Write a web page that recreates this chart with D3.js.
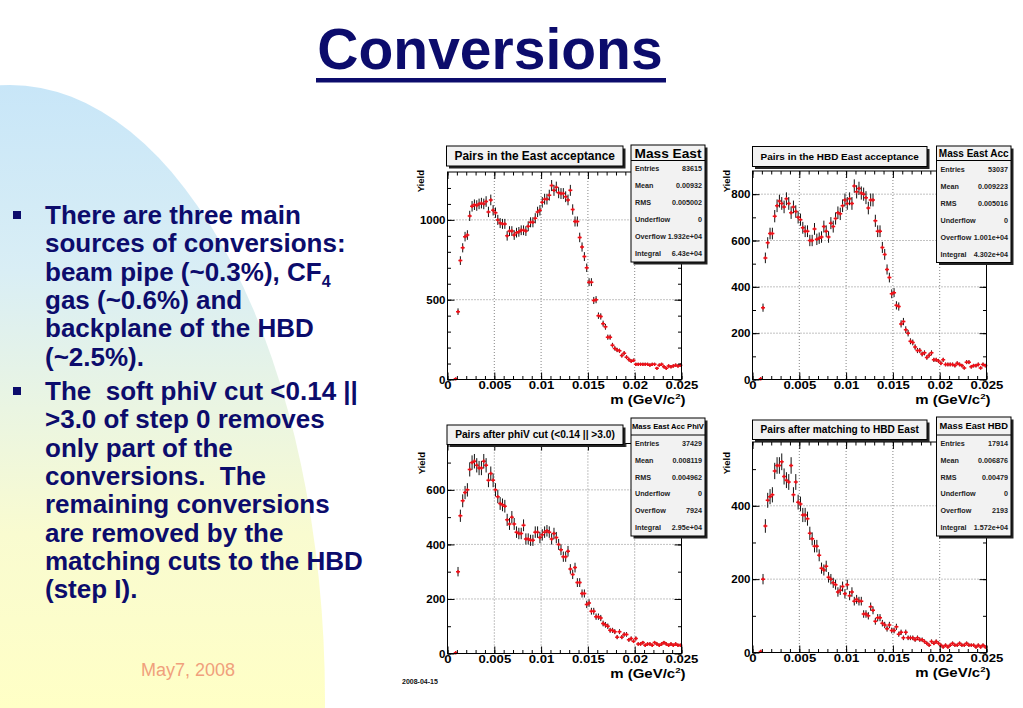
<!DOCTYPE html>
<html>
<head>
<meta charset="utf-8">
<script src="https://cdn.jsdelivr.net/npm/d3@7"></script>
<style>
  body { margin: 0; background: #fff; }
  svg { display: block; }
  text { font-family: "Liberation Sans", Arial, Helvetica, sans-serif; }
</style>
</head>
<body>
<div id="container"></div>
<script>
// ---------------------------- DATA ----------------------------//
// 100 bins between 0 and 0.025 GeV/c^2, counts
const binLo = 0, binHi = 0.025;

const eastAcc = [
  0, 0, 0, 4, 425, 745, 825, 895, 905, 1025,
  1085, 1095, 1090, 1100, 1105, 1100, 1115, 1050, 1125, 1060,
  1045, 1000, 980, 975, 975, 900, 930, 930, 905, 920,
  925, 935, 935, 930, 960, 985, 985, 1010, 1050, 1060,
  1110, 1130, 1130, 1155, 1215, 1185, 1205, 1170, 1165, 1165,
  1145, 1125, 1185, 1065, 990, 990, 890, 830, 770, 700,
  610, 610, 495, 500, 400, 395, 350, 330, 265, 265,
  215, 195, 185, 180, 150, 165, 140, 125, 115, 120,
  95, 95, 95, 95, 95, 95, 90, 95, 95, 70,
  90, 95, 80, 70, 85, 80, 85, 90, 85, 90
];
const hbdEastAcc = [
  0, 0, 0, 3, 310, 525, 590, 630, 630, 705,
  750, 770, 760, 745, 780, 760, 720, 745, 725, 700,
  690, 655, 640, 640, 600, 600, 650, 605, 610, 615,
  660, 640, 615, 675, 660, 695, 720, 715, 750, 775,
  760, 780, 760, 835, 810, 825, 805, 800, 785, 740,
  775, 775, 685, 640, 640, 570, 540, 475, 440, 370,
  375, 320, 315, 240, 250, 215, 200, 165, 160, 140,
  125, 125, 110, 115, 95, 105, 115, 85, 85, 80,
  70, 85, 65, 65, 65, 65, 60, 70, 65, 60,
  50, 75, 75, 55, 60, 60, 65, 50, 65, 60
];
const phiVCut = [
  0, 0, 0, 3, 300, 505, 560, 590, 600, 675,
  700, 705, 690, 680, 680, 705, 690, 635, 660, 635,
  600, 575, 550, 545, 540, 490, 475, 500, 475, 445,
  440, 440, 470, 420, 420, 415, 415, 445, 445, 425,
  435, 445, 450, 445, 420, 440, 425, 400, 380, 355,
  355, 375, 310, 290, 315, 260, 260, 220, 220, 180,
  185, 155, 155, 135, 135, 130, 110, 105, 100, 85,
  85, 80, 60, 80, 60, 70, 70, 50, 55, 45,
  55, 35, 35, 40, 30, 35, 35, 30, 40, 35,
  30, 35, 40, 35, 30, 35, 30, 35, 30, 30
];
const hbdMatch = [
  0, 0, 0, 3, 200, 345, 415, 425, 430, 495,
  510, 510, 520, 480, 470, 465, 510, 430, 465, 410,
  405, 375, 375, 365, 325, 310, 290, 290, 265, 230,
  225, 235, 205, 200, 190, 185, 165, 170, 180, 160,
  185, 155, 165, 140, 145, 140, 140, 105, 105, 100,
  125, 115, 85, 95, 95, 80, 75, 65, 75, 60,
  60, 70, 50, 55, 40, 55, 40, 40, 40, 35,
  40, 35, 35, 30, 25, 20, 30, 25, 30, 25,
  20, 15, 20, 15, 20, 25, 20, 20, 25, 20,
  20, 25, 20, 20, 20, 15, 20, 15, 20, 15
];

const xMajor = [0, 0.005, 0.01, 0.015, 0.02, 0.025];
const xLabels = ["0", "0.005", "0.01", "0.015", "0.02", "0.025"];
const yTicks1 = [0, 500, 1000];
const yTicks2 = [0, 200, 400, 600, 800];
const yTicks3 = [0, 200, 400, 600];
const yTicks4 = [0, 200, 400];
const yMaxes = [1300, 900, 770, 574];

const histTitles = ["Pairs in the East acceptance", "Pairs in the HBD East acceptance",
  "Pairs after phiV cut (<0.14 || >3.0)", "Pairs after matching to HBD East"];
const statNames = ["Mass East", "Mass East Acc", "Mass East Acc PhiV", "Mass East HBD"];
const statLabels = ["Entries", "Mean", "RMS", "Underflow", "Overflow", "Integral"];
const stats1 = ["83615", "0.00932", "0.005002", "0", "1.932e+04", "6.43e+04"];
const stats2 = ["53037", "0.009223", "0.005016", "0", "1.001e+04", "4.302e+04"];
const stats3 = ["37429", "0.008119", "0.004962", "0", "7924", "2.95e+04"];
const stats4 = ["17914", "0.006876", "0.00479", "0", "2193", "1.572e+04"];

// "_" marks the start of a subscript
const bullet1 = ["There are three main", "sources of conversions:", "beam pipe (~0.3%), CF_4",
  "gas (~0.6%) and", "backplane of the HBD", "(~2.5%)."];
const bullet2 = ["The  soft phiV cut <0.14 ||", ">3.0 of step 0 removes", "only part of the",
  "conversions.  The", "remaining conversions", "are removed by the",
  "matching cuts to the HBD", "(step I)."];

// ---------------------------- PAGE ----------------------------//
const svg = d3.select("#container").append("svg")
  .attr("width", 1023).attr("height", 708);

const defs = svg.append("defs");
const grad = defs.append("linearGradient").attr("id", "bg")
  .attr("gradientUnits", "userSpaceOnUse")
  .attr("x1", 0).attr("y1", 85).attr("x2", 0).attr("y2", 708);
grad.append("stop").attr("offset", "0%").attr("stop-color", "#c8e6f8");
grad.append("stop").attr("offset", "30%").attr("stop-color", "#d9eef5");
grad.append("stop").attr("offset", "52%").attr("stop-color", "#eaf5e2");
grad.append("stop").attr("offset", "72%").attr("stop-color", "#f9fbd0");
grad.append("stop").attr("offset", "100%").attr("stop-color", "#ffffc6");

svg.append("ellipse")
  .attr("cx", 10).attr("cy", 700).attr("rx", 315).attr("ry", 615)
  .attr("fill", "url(#bg)");

// title
const navy = "#0c0c6c";
svg.append("text")
  .attr("x", 490).attr("y", 69)
  .attr("text-anchor", "middle")
  .attr("font-size", 57).attr("font-weight", "bold")
  .attr("fill", navy)
  .text("Conversions");
svg.append("rect").attr("x", 316).attr("y", 78).attr("width", 350).attr("height", 4.5).attr("fill", navy);

// bullets
function bullet(lines, y0) {
  svg.append("rect").attr("x", 13).attr("y", y0 - 13).attr("width", 8).attr("height", 8).attr("fill", navy);
  const t = svg.append("text")
    .attr("font-size", 26).attr("font-weight", "bold")
    .attr("fill", navy).style("white-space", "pre");
  lines.forEach(function (line, i) {
    const parts = line.split("_");
    t.append("tspan").attr("x", 45).attr("y", y0 + i * 28.35).text(parts[0]);
    if (parts[1]) {
      t.append("tspan").attr("dy", 6).attr("font-size", 16).text(parts[1]);
    }
  });
}
bullet(bullet1, 224);
bullet(bullet2, 400);

svg.append("text")
  .attr("x", 188).attr("y", 676).attr("text-anchor", "middle")
  .attr("font-size", 18).attr("fill", "#f0a07c")
  .text("May7, 2008");

svg.append("text")
  .attr("x", 402).attr("y", 684)
  .attr("font-size", 7).attr("font-weight", "bold").attr("fill", "#111")
  .text("2008-04-15");

// ---------------------------- PANELS ----------------------------//
const panels = [
  { frame: { x0: 447.5, x1: 681.5, y0: 172, y1: 379.5 },
    tbox: { x0: 446.5, y0: 146, x1: 623, y1: 166 },
    sbox: { x0: 631, y0: 145, x1: 705, y1: 262, hdr: 160.5 },
    yTitle: { x: 424, y: 170 }, sTitleW: 67 },
  { frame: { x0: 752.5, x1: 986.5, y0: 171, y1: 379.5 },
    tbox: { x0: 752.5, y0: 146.5, x1: 927, y1: 166.5 },
    sbox: { x0: 936.5, y0: 146, x1: 1011, y1: 262.5, hdr: 160.5 },
    yTitle: { x: 730, y: 170 }, sTitleW: 70 },
  { frame: { x0: 447.5, x1: 681.5, y0: 443.5, y1: 653.5 },
    tbox: { x0: 447, y0: 425, x1: 623, y1: 444.5 },
    sbox: { x0: 631, y0: 418, x1: 705, y1: 536, hdr: 435 },
    yTitle: { x: 425, y: 452 }, sTitleW: 72 },
  { frame: { x0: 752.5, x1: 986.5, y0: 442, y1: 652.5 },
    tbox: { x0: 752.5, y0: 420, x1: 927, y1: 439.5 },
    sbox: { x0: 936.5, y0: 417, x1: 1011, y1: 536, hdr: 435 },
    yTitle: { x: 730, y: 452 }, sTitleW: 68.5 }
];

function fitText(sel, maxSize, targetW) {
  sel.attr("font-size", maxSize);
  const w = sel.node().getComputedTextLength();
  if (w > 0) sel.attr("font-size", Math.min(maxSize, maxSize * targetW / w));
}

function styleAxis(ax) {
  ax.select(".domain").remove();
  ax.selectAll(".tick line").attr("stroke", "#000").attr("stroke-width", 1);
  ax.selectAll("text").attr("font-weight", "bold").attr("fill", "#000");
}

function drawPanel(p, values, yMax, yTicks, title, statName, statVals) {
  const f = p.frame;
  const g = svg.append("g");
  const x = d3.scaleLinear().domain([binLo, binHi]).range([f.x0, f.x1]);
  const y = d3.scaleLinear().domain([0, yMax]).range([f.y1, f.y0]);
  const bw = (binHi - binLo) / values.length;
  const yMinor = d3.range(0, yMax, 100);
  const xMinor = d3.range(0, 0.02501, 0.001);

  g.append("rect").attr("x", f.x0).attr("y", f.y0)
    .attr("width", f.x1 - f.x0).attr("height", f.y1 - f.y0).attr("fill", "#fff");

  // grid
  g.selectAll(".gx").data(xMajor.slice(1, -1)).enter().append("line")
    .attr("x1", d => x(d)).attr("x2", d => x(d)).attr("y1", f.y0).attr("y2", f.y1)
    .attr("stroke", "#666").attr("stroke-width", 0.8).attr("stroke-dasharray", "1,2");
  g.selectAll(".gy").data(yTicks.slice(1)).enter().append("line")
    .attr("x1", f.x0).attr("x2", f.x1).attr("y1", d => y(d)).attr("y2", d => y(d))
    .attr("stroke", "#666").attr("stroke-width", 0.8).attr("stroke-dasharray", "1,2");

  // histogram points with errors
  const bins = values.map((v, i) => ({ lo: binLo + i * bw, hi: binLo + (i + 1) * bw, v: v }))
    .filter(d => d.v > 0);
  const pts = g.selectAll(".pt").data(bins).enter().append("g");
  pts.append("line")
    .attr("x1", d => x(d.lo)).attr("x2", d => x(d.hi))
    .attr("y1", d => y(d.v)).attr("y2", d => y(d.v))
    .attr("stroke", "#888").attr("stroke-width", 1);
  pts.append("line")
    .attr("x1", d => x((d.lo + d.hi) / 2)).attr("x2", d => x((d.lo + d.hi) / 2))
    .attr("y1", d => y(d.v - Math.sqrt(d.v))).attr("y2", d => y(d.v + Math.sqrt(d.v)))
    .attr("stroke", "#111").attr("stroke-width", 1);
  pts.append("path")
    .attr("d", function (d) {
      const cx = x((d.lo + d.hi) / 2), cy = y(d.v);
      return "M" + (cx - 2) + "," + cy + "H" + (cx + 2) + "M" + cx + "," + (cy - 1.7) + "V" + (cy + 1.7);
    })
    .attr("stroke", "#ee1018").attr("stroke-width", 1.5);

  // ticks on all sides
  const bottom = g.append("g").attr("transform", "translate(0," + f.y1 + ")")
    .call(d3.axisBottom(x).tickValues(xMajor).tickFormat((d, i) => xLabels[i])
      .tickSizeInner(-7).tickSizeOuter(0));
  styleAxis(bottom);
  // labels in the original are squat and wide
  bottom.selectAll("text")
    .attr("font-size", 10.5).attr("y", 10).attr("dy", null)
    .attr("transform", "scale(1.25,1)");
  const bottomMinor = g.append("g").attr("transform", "translate(0," + f.y1 + ")")
    .call(d3.axisBottom(x).tickValues(xMinor).tickFormat("").tickSizeInner(-3.5).tickSizeOuter(0));
  styleAxis(bottomMinor);
  const top = g.append("g").attr("transform", "translate(0," + f.y0 + ")")
    .call(d3.axisTop(x).tickValues(xMajor).tickFormat("").tickSizeInner(-7).tickSizeOuter(0));
  styleAxis(top);
  const topMinor = g.append("g").attr("transform", "translate(0," + f.y0 + ")")
    .call(d3.axisTop(x).tickValues(xMinor).tickFormat("").tickSizeInner(-3.5).tickSizeOuter(0));
  styleAxis(topMinor);

  const left = g.append("g").attr("transform", "translate(" + f.x0 + ",0)")
    .call(d3.axisLeft(y).tickValues(yTicks).tickFormat(d3.format("d"))
      .tickSizeInner(-7).tickSizeOuter(0).tickPadding(2));
  styleAxis(left);
  left.selectAll("text").attr("font-size", 11.5);
  const leftMinor = g.append("g").attr("transform", "translate(" + f.x0 + ",0)")
    .call(d3.axisLeft(y).tickValues(yMinor).tickFormat("").tickSizeInner(-3.5).tickSizeOuter(0));
  styleAxis(leftMinor);
  const right = g.append("g").attr("transform", "translate(" + f.x1 + ",0)")
    .call(d3.axisRight(y).tickValues(yTicks).tickFormat("").tickSizeInner(-7).tickSizeOuter(0));
  styleAxis(right);
  const rightMinor = g.append("g").attr("transform", "translate(" + f.x1 + ",0)")
    .call(d3.axisRight(y).tickValues(yMinor).tickFormat("").tickSizeInner(-3.5).tickSizeOuter(0));
  styleAxis(rightMinor);

  // frame
  g.append("rect").attr("x", f.x0).attr("y", f.y0)
    .attr("width", f.x1 - f.x0).attr("height", f.y1 - f.y0)
    .attr("fill", "none").attr("stroke", "#000").attr("stroke-width", 1);

  // axis titles
  const xt = g.append("g").attr("transform", "translate(" + (f.x1 + 4) + "," + (f.y1 + 24.5) + ") scale(1.2,1)")
    .append("text").attr("text-anchor", "end")
    .attr("font-size", 12.5).attr("font-weight", "bold").attr("fill", "#000");
  xt.append("tspan").text("m (GeV/c");
  xt.append("tspan").attr("dy", -5.5).attr("font-size", 8).text("2");
  xt.append("tspan").attr("dy", 5.5).text(")");

  g.append("text")
    .attr("transform", "translate(" + p.yTitle.x + "," + p.yTitle.y + ") rotate(-90)")
    .attr("text-anchor", "end").attr("font-size", 9.5).attr("font-weight", "bold").attr("fill", "#000")
    .text("Yield");

  // title box
  const t = p.tbox;
  g.append("rect").attr("x", t.x0 + 2.5).attr("y", t.y0 + 2.5)
    .attr("width", t.x1 - t.x0).attr("height", t.y1 - t.y0).attr("fill", "#222");
  g.append("rect").attr("x", t.x0).attr("y", t.y0)
    .attr("width", t.x1 - t.x0).attr("height", t.y1 - t.y0)
    .attr("fill", "#f2f2f2").attr("stroke", "#000").attr("stroke-width", 1);
  const tt = g.append("text").attr("x", (t.x0 + t.x1) / 2).attr("y", (t.y0 + t.y1) / 2)
    .attr("dy", "0.36em").attr("text-anchor", "middle").attr("font-weight", "bold").attr("fill", "#000")
    .text(title);
  fitText(tt, 12, t.x1 - t.x0 - 16);

  // stats box
  const s = p.sbox;
  g.append("rect").attr("x", s.x0 + 2.5).attr("y", s.y0 + 2.5)
    .attr("width", s.x1 - s.x0).attr("height", s.y1 - s.y0).attr("fill", "#222");
  g.append("rect").attr("x", s.x0).attr("y", s.y0)
    .attr("width", s.x1 - s.x0).attr("height", s.y1 - s.y0)
    .attr("fill", "#f2f2f2").attr("stroke", "#000").attr("stroke-width", 1);
  g.append("line").attr("x1", s.x0).attr("x2", s.x1).attr("y1", s.hdr).attr("y2", s.hdr)
    .attr("stroke", "#000").attr("stroke-width", 1);
  const st = g.append("text").attr("x", (s.x0 + s.x1) / 2).attr("y", (s.y0 + s.hdr) / 2)
    .attr("dy", "0.36em").attr("text-anchor", "middle").attr("font-weight", "bold").attr("fill", "#000")
    .text(statName);
  fitText(st, 14, p.sTitleW);
  const step = (s.y1 - s.hdr) / statLabels.length;
  statLabels.forEach(function (lab, k) {
    const cy = s.hdr + (k + 0.5) * step;
    g.append("text").attr("x", s.x0 + 4).attr("y", cy).attr("dy", "0.35em")
      .attr("font-size", 7.2).attr("font-weight", "bold").attr("fill", "#222").text(lab);
    g.append("text").attr("x", s.x1 - 3).attr("y", cy).attr("dy", "0.35em").attr("text-anchor", "end")
      .attr("font-size", 7.2).attr("font-weight", "bold").attr("fill", "#222").text(statVals[k]);
  });
}

drawPanel(panels[0], eastAcc, yMaxes[0], yTicks1, histTitles[0], statNames[0], stats1);
drawPanel(panels[1], hbdEastAcc, yMaxes[1], yTicks2, histTitles[1], statNames[1], stats2);
drawPanel(panels[2], phiVCut, yMaxes[2], yTicks3, histTitles[2], statNames[2], stats3);
drawPanel(panels[3], hbdMatch, yMaxes[3], yTicks4, histTitles[3], statNames[3], stats4);
</script>
</body>
</html>
